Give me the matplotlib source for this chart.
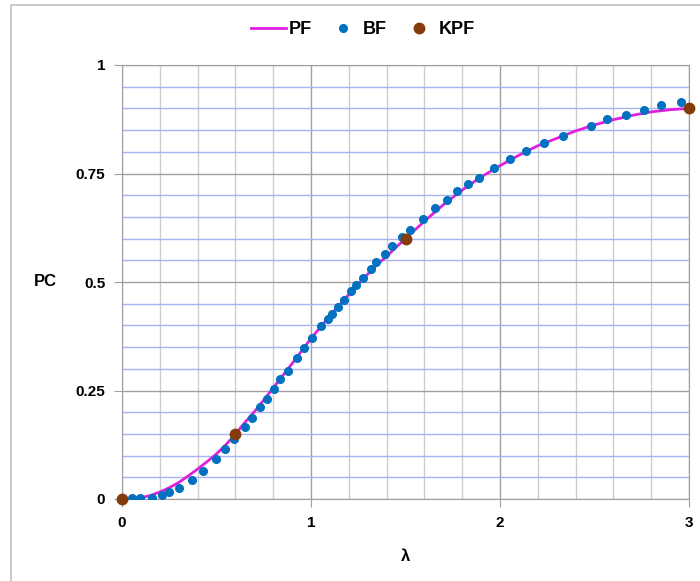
import matplotlib.pyplot as plt
from matplotlib.patches import Rectangle
from matplotlib.ticker import MultipleLocator

# PF curve
pf_x = [0, 0.05, 0.1, 0.15, 0.2, 0.25, 0.3, 0.35, 0.4, 0.45, 0.5, 0.55, 0.6,
        0.65, 0.7, 0.75, 0.8, 0.85, 0.9, 0.95, 1.0, 1.05, 1.1, 1.15, 1.2,
        1.25, 1.3, 1.35, 1.4, 1.45, 1.5, 1.6, 1.7, 1.8, 1.9, 2.0, 2.1, 2.2,
        2.3, 2.4, 2.5, 2.6, 2.7, 2.8, 2.9, 3.0]
pf_y = [0, 0.001, 0.003, 0.008, 0.016, 0.026, 0.038, 0.053, 0.069, 0.086,
        0.104, 0.125, 0.15, 0.176, 0.201, 0.228, 0.256, 0.284, 0.312, 0.341,
        0.37, 0.396, 0.422, 0.447, 0.471, 0.495, 0.518, 0.54, 0.559, 0.58,
        0.6, 0.64, 0.678, 0.712, 0.742, 0.768, 0.792, 0.814, 0.831, 0.848,
        0.862, 0.874, 0.884, 0.892, 0.897, 0.9]

# BF points
bf_x = [0.054, 0.095, 0.157, 0.210, 0.250, 0.303, 0.369, 0.427, 0.496, 0.547,
        0.593, 0.649, 0.688, 0.729, 0.765, 0.802, 0.836, 0.880, 0.924, 0.965,
        1.007, 1.051, 1.090, 1.111, 1.141, 1.176, 1.212, 1.237, 1.274, 1.316,
        1.346, 1.390, 1.430, 1.480, 1.522, 1.591, 1.656, 1.718, 1.771, 1.829,
        1.889, 1.967, 2.054, 2.138, 2.233, 2.332, 2.480, 2.566, 2.665, 2.763,
        2.852, 2.956]
bf_y = [0.003, 0.003, 0.003, 0.0085, 0.0155, 0.025, 0.044, 0.065, 0.092, 0.116,
        0.139, 0.167, 0.187, 0.212, 0.230, 0.254, 0.276, 0.296, 0.324, 0.347,
        0.371, 0.399, 0.415, 0.427, 0.443, 0.459, 0.480, 0.494, 0.510, 0.530,
        0.546, 0.564, 0.584, 0.604, 0.620, 0.646, 0.670, 0.690, 0.710, 0.725,
        0.739, 0.762, 0.783, 0.801, 0.820, 0.836, 0.860, 0.875, 0.884, 0.896,
        0.907, 0.914]

# KPF points
kpf_x = [0, 0.6, 1.5, 3]
kpf_y = [0, 0.15, 0.6, 0.9]

x_ticks = [0, 1, 2, 3]
y_ticks = [0, 0.25, 0.5, 0.75, 1]
y_tick_labels = ['0', '0.25', '0.5', '0.75', '1']

fig = plt.figure(figsize=(7, 5.81), dpi=100)
fig.patches.append(Rectangle((11 / 700, -0.1), 1.2, 1 - 5 / 581 + 0.1,
                             transform=fig.transFigure, fill=False,
                             edgecolor='#c0c0c0', linewidth=1.2))
ax = fig.add_axes([122 / 700, 82 / 581, 567 / 700, 434 / 581])

ax.set_xlim(0, 3)
ax.set_ylim(0, 1)
ax.set_xticks(x_ticks)
ax.set_xticklabels([str(t) for t in x_ticks])
ax.set_yticks(y_ticks)
ax.set_yticklabels(y_tick_labels)
ax.xaxis.set_minor_locator(MultipleLocator(0.2))
ax.yaxis.set_minor_locator(MultipleLocator(0.05))

ax.grid(which='minor', axis='x', color='#cccccc', linewidth=1)
ax.grid(which='minor', axis='y', color='#a8b4f0', linewidth=1)
ax.grid(which='major', color='#a0a0a0', linewidth=1)
ax.set_axisbelow(True)

for s in ax.spines.values():
    s.set_color('#a0a0a0')
ax.tick_params(which='major', length=6, color='#a0a0a0', pad=6)
ax.tick_params(which='minor', length=0)
for lbl in ax.get_xticklabels() + ax.get_yticklabels():
    lbl.set_fontweight('bold')
    lbl.set_fontsize(11)
    lbl.set_family('Liberation Sans')

ax.plot(pf_x, pf_y, color='#e020e0', linewidth=2, label='PF', zorder=3)
ax.plot(bf_x, bf_y, 'o', color='#0070c0', markersize=5.5, label='BF', zorder=4)
ax.plot(kpf_x, kpf_y, 'o', color='#843c0c', markersize=7.5, label='KPF',
        zorder=5, clip_on=False)

ax.set_xlabel('λ', fontsize=12, fontweight='bold', family='Liberation Sans',
              labelpad=14)
ax.set_ylabel('PC', fontsize=12, fontweight='bold', family='Liberation Sans',
              rotation=0, labelpad=22, va='center')

leg = fig.legend(loc='center', bbox_to_anchor=(363 / 700, 1 - 30 / 581),
                 ncol=3, frameon=False, handlelength=1.9, handletextpad=0.15,
                 columnspacing=0.8, prop={'family': 'Liberation Sans',
                                          'weight': 'bold', 'size': 13})

fig.savefig('out.png', dpi=100)
